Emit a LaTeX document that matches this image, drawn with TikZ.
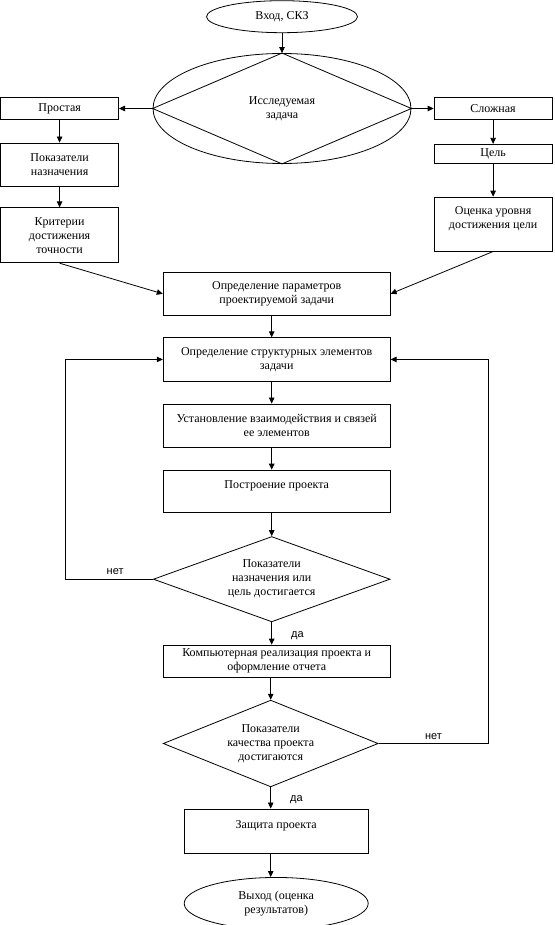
\documentclass[tikz,border=0pt]{standalone}
\usepackage{fontspec}
\setmainfont{Liberation Serif}
\newfontfamily\answerfont{Liberation Sans}
\usetikzlibrary{shapes.geometric, arrows.meta, positioning}

\begin{document}
\begin{tikzpicture}[
    x=1pt, y=-1pt,
    line width=0.8pt,
    process/.style={rectangle, draw, align=center, inner sep=2pt, minimum width=227pt},
    sidebox/.style={rectangle, draw, align=center, inner sep=2pt, minimum width=118pt},
    decision/.style={diamond, draw, align=center, inner sep=0pt, shape aspect=2.5},
    terminal/.style={ellipse, draw, align=center, inner sep=0pt},
    arrow/.style={-{Triangle[length=6pt, width=5.5pt]}},
    answer/.style={font=\answerfont\fontsize{11}{13}\selectfont, inner sep=1pt},
    node distance=22pt,
    every node/.append style={font=\fontsize{12}{14}\selectfont}
]
    \useasboundingbox (0,0) rectangle (554,925);

    % Entry and task type
    \node[terminal, minimum width=258pt, minimum height=110pt] (task) at (282,108.5) {Исследуемая\\задача};
    \draw (task.north) -- (task.east) -- (task.south) -- (task.west) -- cycle;
    \node[terminal, minimum width=151pt, minimum height=32pt, above=20pt of task] (entry) {Вход, СКЗ};

    % Simple task branch
    \node[sidebox, minimum height=22pt, left=33.6pt of task] (simple) {Простая};
    \node[sidebox, minimum height=43.3pt, below=22.7pt of simple] (purpose) {Показатели\\назначения};
    \node[sidebox, minimum height=55pt, below=20.7pt of purpose] (criteria) {Критерии\\достижения\\точности};

    % Complex task branch
    \node[sidebox, minimum height=22pt, right=22.3pt of task] (complex) {Сложная};
    \node[sidebox, minimum height=19pt, below=24pt of complex] (goal) {Цель};
    \node[sidebox, minimum height=54pt, below=33pt of goal] (estimate) {Оценка уровня\\достижения цели\\\mbox{}};

    % Main column
    \node[process, minimum height=42.3pt] (params) at (276.7,293.8) {Определение параметров\\проектируемой задачи};
    \node[process, minimum height=43.4pt, below=of params] (struct) {Определение структурных элементов\\задачи};
    \node[process, minimum height=43.3pt, below=of struct] (links) {Установление взаимодействия и связей\\ее элементов};
    \node[process, minimum height=42.4pt, below=of links] (build) {Построение проекта\\\mbox{}};
    \node[decision, minimum width=236.7pt, minimum height=85.3pt, below=23.3pt of build, xshift=-5pt] (check1) {Показатели\\назначения или\\цель достигается};
    \node[process, minimum height=32.3pt, below=22.4pt of check1, xshift=5pt] (impl) {Компьютерная реализация проекта и\\оформление отчета};
    \node[decision, minimum width=215pt, minimum height=86.7pt, below=of impl, xshift=-6pt] (check2) {Показатели\\качества проекта\\достигаются};
    \node[process, minimum width=184pt, minimum height=44.3pt, below=21.3pt of check2, xshift=5.5pt] (defense) {Защита проекта\\\mbox{}};
    \node[terminal, minimum width=184pt, minimum height=52pt, below=23.4pt of defense] (exit) {Выход (оценка\\результатов)};

    % Flow
    \draw[arrow] (entry) -- (task.north);
    \draw[arrow] (task.west) -- (simple);
    \draw[arrow] (task.east) -- (complex);
    \draw[arrow] (simple) -- (purpose);
    \draw[arrow] (purpose) -- (criteria);
    \draw[arrow] (complex) -- (goal);
    \draw[arrow] (goal) -- (estimate);
    \draw[arrow] (criteria.south) -- (params.west);
    \draw[arrow] (estimate.south) -- (params.east);
    \draw[arrow] (params.south -| check1.north) -- (struct.north -| check1.north);
    \draw[arrow] (struct.south -| check1.north) -- (links.north -| check1.north);
    \draw[arrow] (links.south -| check1.north) -- (build.north -| check1.north);
    \draw[arrow] (build.south -| check1.north) -- (check1.north);
    \draw[arrow] (check1.south) -- node[answer, right, xshift=18pt, yshift=-2pt] {да} (impl.north -| check1.south);
    \draw[arrow] (impl.south -| check2.north) -- (check2.north);
    \draw[arrow] (check2.south) -- node[answer, right, xshift=18pt, yshift=-2pt] {да} (defense.north -| check2.south);
    \draw[arrow] (defense.south -| check2.south) -- (exit.north -| check2.south);

    % Feedback loops
    \draw[arrow] (check1.west) -- node[answer, above=3pt, pos=0.43] {нет} ++(-88,0) |- (struct.west);
    \draw[arrow] (check2.east) -- node[answer, above=3pt] {нет} ++(110,0) |- (struct.east);
\end{tikzpicture}
\end{document}
